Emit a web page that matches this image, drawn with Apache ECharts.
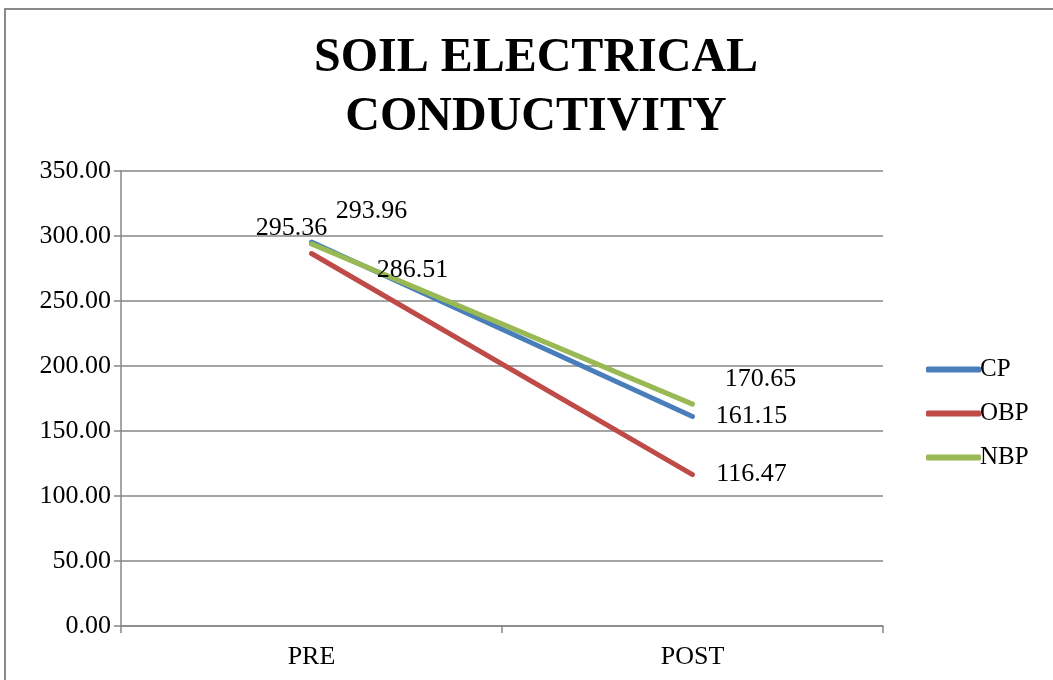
<!DOCTYPE html>
<html>
<head>
<meta charset="utf-8">
<script src="https://cdn.jsdelivr.net/npm/echarts@6/dist/echarts.min.js"></script>
<style>
  html, body { margin: 0; padding: 0; background: #fff; }
  #chart { width: 1053px; height: 680px; }
</style>
</head>
<body>
<div id="chart"></div>
<script>
const categories = ['PRE', 'POST'];
const seriesNames = ['CP', 'OBP', 'NBP'];
const cpValues = [295.36, 161.15];
const obpValues = [286.51, 116.47];
const nbpValues = [293.96, 170.65];
const yTicks = { min: 0, max: 350, interval: 50 };

const FONT = '"Liberation Serif", "Times New Roman", serif';
const GRID_COLOR = '#878787';
const COLORS = { CP: '#4a7ebb', OBP: '#be4b48', NBP: '#98b954' };

// label offsets (dx, dy) per point, as placed in the original
const labelOffsets = {
    CP: [[-20, -14], [59, 0]],
    OBP: [[101, 17], [59, 0]],
    NBP: [[60, -33], [68, -25]]
};

function buildData(name, values) {
    return values.map(function (v, i) {
        return {
            value: v,
            label: { offset: labelOffsets[name][i] }
        };
    });
}

function buildSeries(name, values) {
    return {
        name: name,
        type: 'line',
        data: buildData(name, values),
        symbol: 'circle',
        symbolSize: 0,
        showSymbol: true,
        lineStyle: { width: 5, color: COLORS[name], cap: 'round' },
        itemStyle: { color: COLORS[name] },
        label: {
            show: true,
            position: 'inside',
            align: 'center',
            verticalAlign: 'middle',
            color: '#000',
            fontFamily: FONT,
            fontSize: 26,
            formatter: function (p) { return p.value.toFixed(2); }
        },
        emphasis: { disabled: true },
        animation: false
    };
}

const chart = echarts.init(document.getElementById('chart'));
chart.setOption({
    animation: false,
    graphic: [{
        type: 'rect',
        shape: { x: 5, y: 9, width: 1200, height: 800 },
        style: { fill: 'none', stroke: '#8a8a8a', lineWidth: 2 },
        silent: true
    }],
    title: {
        text: 'SOIL ELECTRICAL\nCONDUCTIVITY',
        left: 531,
        textAlign: 'center',
        top: 24,
        textStyle: {
            fontFamily: FONT,
            fontWeight: 'bold',
            fontSize: 48,
            lineHeight: 59,
            color: '#000'
        }
    },
    legend: {
        data: seriesNames,
        orient: 'vertical',
        left: 921,
        top: 352,
        itemWidth: 55,
        itemHeight: 6,
        itemGap: 19,
        icon: 'roundRect',
        textStyle: { fontFamily: FONT, fontSize: 25, color: '#000', padding: [0, 0, 0, -6] }
    },
    grid: { left: 121, right: 170, top: 171, bottom: 54, containLabel: false },
    xAxis: {
        type: 'category',
        data: categories,
        boundaryGap: true,
        axisLine: { lineStyle: { color: GRID_COLOR, width: 1.5 } },
        axisTick: { show: true, length: 7, lineStyle: { color: GRID_COLOR, width: 1.5 } },
        axisLabel: { margin: 18, fontFamily: FONT, fontSize: 26, color: '#000' },
        splitLine: { show: false }
    },
    yAxis: {
        type: 'value',
        min: yTicks.min,
        max: yTicks.max,
        interval: yTicks.interval,
        axisLine: { show: true, lineStyle: { color: GRID_COLOR, width: 1.5 } },
        axisTick: { show: true, length: 7, lineStyle: { color: GRID_COLOR, width: 1.5 } },
        axisLabel: {
            margin: 10,
            fontFamily: FONT,
            fontSize: 26,
            color: '#000',
            formatter: function (v) { return v.toFixed(2); }
        },
        splitLine: { lineStyle: { color: GRID_COLOR, width: 1.5 } }
    },
    series: [
        buildSeries('CP', cpValues),
        buildSeries('OBP', obpValues),
        buildSeries('NBP', nbpValues)
    ]
});
</script>
</body>
</html>
